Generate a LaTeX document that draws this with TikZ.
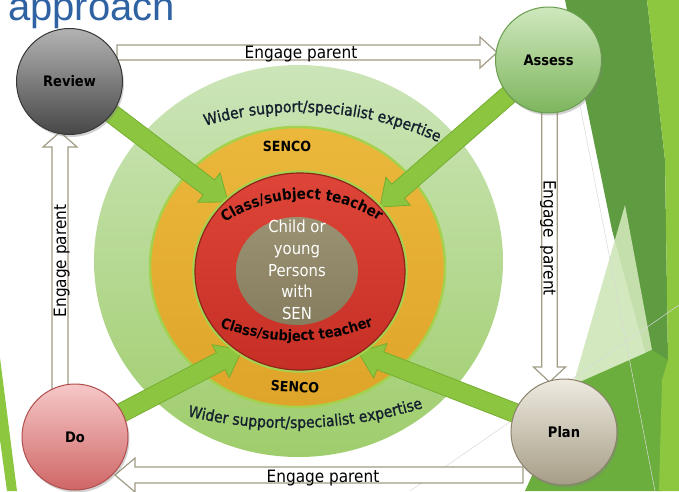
\documentclass[tikz,border=0pt]{standalone}
\usepackage{fontspec}
\setmainfont{DejaVu Sans Condensed}
\newfontfamily\titlefont{Liberation Sans}
\newfontfamily\semibold[FakeBold=1.3]{DejaVu Sans Condensed}
\usetikzlibrary{calc,shadows,decorations.text}
\definecolor{titleblue}{HTML}{2E62A3}
\definecolor{lime}{HTML}{8DC63F}
\definecolor{darkg}{HTML}{5F9B41}
\definecolor{midg}{HTML}{6CAE3E}
\definecolor{paleg}{HTML}{CFE6B8}
\definecolor{ringg1}{HTML}{CCE5B9}
\definecolor{ringg2}{HTML}{9FCD6C}
\definecolor{orng1}{HTML}{EBB83C}
\definecolor{orng2}{HTML}{DFA42A}
\definecolor{glow}{HTML}{A5D24E}
\definecolor{red1}{HTML}{DE4538}
\definecolor{red2}{HTML}{C62F25}
\definecolor{redline}{HTML}{8E241C}
\definecolor{olive1}{HTML}{9A9273}
\definecolor{olive2}{HTML}{857D5D}
\definecolor{arrowg}{HTML}{8CC53F}
\definecolor{arrowgd}{HTML}{76AE31}
\definecolor{hollowline}{HTML}{A29C85}
\definecolor{navytext}{HTML}{14202E}
\newcommand{\mkarrow}[6]{%
  \coordinate (mkH) at ($(#3)!#6!(#2)$);
  \path[#1] ($(#2)!#4!90:(#3)$) -- ($(mkH)!#4!90:(#3)$) -- ($(mkH)!#5!90:(#3)$) -- (#3)
    -- ($(mkH)!#5!-90:(#3)$) -- ($(mkH)!#4!-90:(#3)$) -- ($(#2)!#4!-90:(#3)$) -- cycle;}
\begin{document}
\begin{tikzpicture}[x=1pt,y=1pt,
  greenarrow/.style={fill=arrowg, draw=arrowgd, line width=0.8pt, line join=miter},
  hollow/.style={fill=white, draw=hollowline, line width=1.2pt},
  ball/.style={circle, minimum size=106pt, inner sep=0pt, line width=1pt,
    font=\bfseries\fontsize{14.5}{14.5}\selectfont, text=black,
    drop shadow={opacity=0.35, shadow xshift=1.5pt, shadow yshift=-2.5pt}},
  englabel/.style={font=\fontsize{17}{17}\selectfont, text=black, inner sep=0pt, anchor=base},
  ringlabel/.style={font=\bfseries\fontsize{14}{14}\selectfont, text=black, inner sep=0pt}]
\useasboundingbox (0,0) rectangle (679,-491);
\fill[white] (0,0) rectangle (679,-491);
% background decoration
\fill[darkg] (565,0) -- (647,0) -- (665,-160) -- (668,-360) -- (650,-370) -- (612,-230) -- cycle;
\fill[paleg, opacity=0.9] (625,-205) -- (652,-350) -- (573,-385) -- cycle;
\fill[midg] (573,-385) -- (652,-350) -- (668,-360) -- (662,-491) -- (525,-491) -- cycle;
\fill[lime] (647,0) -- (679,0) -- (679,-491) -- (659,-491) -- (662,-380) -- (668,-360) -- (665,-160) -- cycle;
\draw[gray!30, line width=0.5pt] (578,-95) -- (655,-491);
\draw[gray!30, line width=0.5pt] (410,-491) -- (679,-305);
\fill[lime] (0,-358) -- (17,-491) -- (7,-491) -- (0,-440) -- cycle;
% title
\node[anchor=base west, inner sep=0pt, font=\titlefont\fontsize{40}{40}\selectfont, text=titleblue] (title) at (8,-20.7) {approach};
% centres of the four stages
\coordinate (cReview) at (69.5,-81.5);
\coordinate (cAssess) at (548.5,-60);
\coordinate (cPlan) at (564,-432);
\coordinate (cDo) at (75,-437);
% rings
\path[top color=ringg1, bottom color=ringg2] (298.5,-261) ellipse [x radius=204.5, y radius=196];
\path[top color=orng1, bottom color=orng2, draw=glow, line width=2.5pt] (297.5,-267) ellipse [x radius=147.5, y radius=140];
% green arrows into the centre
\coordinate (tipR) at (228,-202);
\coordinate (tipA) at (380,-207);
\coordinate (tipD) at (242,-350);
\coordinate (tipP) at (358,-352);
\mkarrow{greenarrow}{cReview}{tipR}{9.5pt}{18.5pt}{24pt}
\mkarrow{greenarrow}{cAssess}{tipA}{9.5pt}{18.5pt}{24pt}
\mkarrow{greenarrow}{cDo}{tipD}{9.5pt}{18.5pt}{24pt}
\mkarrow{greenarrow}{cPlan}{tipP}{9.5pt}{18.5pt}{24pt}
% red and olive circles
\path[draw=glow, line width=3.5pt] (300,-271.5) ellipse [x radius=106, y radius=99.5];
\path[top color=red1, bottom color=red2, draw=redline, line width=1.2pt] (300,-271.5) ellipse [x radius=105, y radius=98.5];
\path[top color=olive1, bottom color=olive2] (297,-271) ellipse [x radius=61, y radius=54];
\node[align=center, text=white, inner sep=0pt, font=\fontsize{16.5}{21.7}\selectfont] (child) at (297,-270) {Child or\\young\\Persons\\with\\SEN};
% ring labels
\node[ringlabel] (sencoTop) at (287,-146) {SENCO};
\node[ringlabel, rotate=-3] (sencoBot) at (295,-387) {SENCO};
\path[decorate, decoration={text along path, text align=center,
  text={|\semibold\fontsize{15.5}{15.5}\selectfont\color{navytext}|Wider support/specialist expertise}}]
  ([shift={(300,-444)}]116:332) arc[start angle=116, end angle=56, radius=332];
\path[decorate, decoration={text along path, text align=center,
  text={|\semibold\fontsize{15.5}{15.5}\selectfont\color{navytext}|Wider  support/specialist expertise}}]
  ([shift={(290,22)}]244:450) arc[start angle=244, end angle=300, radius=450];
\path[decorate, decoration={text along path, text align=center,
  text={|\bfseries\fontsize{15}{15}\selectfont\color{black}|Class/subject teacher}}]
  ([shift={(303,-339)}]130:140) arc[start angle=130, end angle=51, radius=140];
\path[decorate, decoration={text along path, text align=center,
  text={|\bfseries\fontsize{14.5}{14.5}\selectfont\color{black}|Class/subject teacher}}]
  ([shift={(295,-131)}]240:210) arc[start angle=240, end angle=301, radius=210];
% hollow "Engage parent" arrows
\coordinate (topS) at (117,-52.5);   \coordinate (topT) at (497,-52.5);
\coordinate (rgtS) at (549.5,-108);  \coordinate (rgtT) at (549.5,-382);
\coordinate (botS) at (523,-475);    \coordinate (botT) at (115,-475);
\coordinate (lftS) at (60,-390);     \coordinate (lftT) at (60,-132);
\mkarrow{hollow}{topS}{topT}{7.5pt}{15.5pt}{17pt}
\mkarrow{hollow}{rgtS}{rgtT}{7.8pt}{16pt}{15pt}
\mkarrow{hollow}{botS}{botT}{8pt}{17pt}{20pt}
\mkarrow{hollow}{lftS}{lftT}{8pt}{17pt}{15pt}
\node[englabel] (engTop) at (301,-58.3) {Engage parent};
\node[englabel] (engBot) at (323,-482.5) {Engage parent};
\node[englabel, rotate=-90] (engRgt) at (543.5,-238) {Engage\hspace{8pt}parent};
\node[englabel, rotate=90] (engLft) at (66,-261) {Engage parent};
% stage nodes
\node[ball, top color=black!30, bottom color=black!72, draw=black!78] (review) at (cReview) {Review};
\node[ball, top color={rgb,255:red,207;green,232;blue,190}, bottom color={rgb,255:red,125;green,181;blue,93}, draw={rgb,255:red,106;green,158;blue,78}] (assess) at (cAssess) {Assess};
\node[ball, top color={rgb,255:red,238;green,234;blue,224}, bottom color={rgb,255:red,165;green,157;blue,134}, draw={rgb,255:red,138;green,130;blue,108}] (plan) at (cPlan) {Plan};
\node[ball, top color={rgb,255:red,247;green,200;blue,200}, bottom color={rgb,255:red,207;green,102;blue,102}, draw={rgb,255:red,176;green,78;blue,78}] (do) at (cDo) {Do};
\end{tikzpicture}
\end{document}
